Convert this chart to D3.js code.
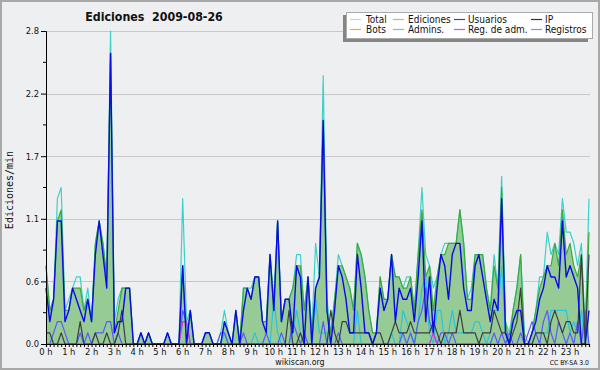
<!DOCTYPE html>
<html><head><meta charset="utf-8">
<script src="https://cdn.jsdelivr.net/npm/d3@7"></script>
<style>
html,body{margin:0;padding:0;background:#f0f0f0}
svg{display:block}
text{font-family:"DejaVu Sans Condensed","DejaVu Sans",sans-serif;fill:#111}
</style>
</head><body><svg id="c" width="600" height="370"></svg>
<script>
// ---- data (10-minute samples, edits per minute) ----
const hourLabels = ["0 h","1 h","2 h","3 h","4 h","5 h","6 h","7 h","8 h","9 h","10 h","11 h","12 h","13 h","14 h","15 h","16 h","17 h","18 h","19 h","20 h","21 h","22 h","23 h"];
const yTickValues = [0, 0.56, 1.12, 1.68, 2.24, 2.8];
const yTickLabels = ["0.0","0.6","1.1","1.7","2.2","2.8"];
const seriesNames = ["Total","Ediciones","Usuarios","IP","Bots","Admins.","Reg. de adm.","Registros"];

const total = [0.7,0.3,0.4,1.3,1.4,0.3,0.4,0.5,0.6,0.6,0.3,0.5,0.2,0.9,1.1,0.9,0.6,2.8,0.2,0.4,0.5,0.5,0.5,0,
0,0.1,0,0.1,0,0,0,0,0.1,0,0,0,1.3,0.2,0.3,0,0,0,0.1,0.1,0,0,0.1,0.3,
0.1,0,0.3,0,0.5,0.5,0.5,0.6,0.6,0.2,0.2,0.8,0.4,1.1,0.2,0.4,0.4,0.5,0.8,0.8,0.3,0.6,0.1,0.9,
0.6,2.4,0.4,0.1,0.4,0.8,0.7,0.6,0.5,0.3,0.9,0.8,0.6,0.3,0.1,0.1,0.6,0.4,0.4,0.8,0.6,0.6,0.5,0.6,
0.6,0.3,0.8,1.4,0.8,0.7,0.5,0.6,0.8,0.9,0.9,0.9,0.9,1.2,0.9,0.4,0.5,0.8,0.8,0.8,0.5,0.3,0.8,0.5,
1.5,0.2,0.1,0.3,0.5,0.8,0.1,0,0.1,0.3,0.6,0.6,1.0,0.8,0.9,0.8,1.3,1.0,1.0,0.9,0.7,0.9,0.1,1.3];

const ediciones = [0.7,0.3,0.4,1.1,1.2,0.3,0.3,0.5,0.5,0.5,0.3,0.4,0.2,0.9,1.1,0.9,0.6,2.6,0.1,0.3,0.5,0.5,0.5,0,
0,0.1,0,0.1,0,0,0,0,0.1,0,0,0,0.7,0,0.3,0,0,0,0.1,0.1,0,0,0,0.2,
0.1,0,0.3,0,0.5,0.5,0.4,0.6,0.6,0.2,0.2,0.8,0.3,1.1,0.2,0.4,0.4,0.5,0.7,0.7,0.3,0.6,0.1,0.5,
0.6,2.0,0.3,0.1,0.4,0.7,0.7,0.6,0.5,0.3,0.9,0.8,0.6,0.3,0.1,0.1,0.6,0.4,0.4,0.8,0.6,0.6,0.5,0.5,
0.6,0.3,0.8,1.2,0.6,0.7,0.3,0.6,0.8,0.8,0.9,0.9,0.9,1.2,0.9,0.4,0.4,0.8,0.8,0.8,0.5,0.3,0.7,0.5,
1.4,0.2,0,0.3,0.5,0.8,0,0,0.1,0.3,0.5,0.6,0.7,0.7,0.9,0.7,1.2,0.8,0.9,0.7,0.6,0.8,0.1,1.0];

const usuarios = [0.5,0.2,0.4,1.1,1.1,0.2,0.3,0.5,0.4,0.3,0.2,0.4,0.2,0.8,1.1,0.8,0.5,2.6,0.1,0.2,0.2,0.5,0.5,0,
0,0.1,0,0.1,0,0,0,0,0.1,0,0,0,0.7,0,0.3,0,0,0,0.1,0.1,0,0,0,0.2,
0.1,0,0.3,0,0.3,0.5,0.4,0.6,0.6,0.2,0.1,0.8,0.3,1.1,0.2,0.4,0.4,0.1,0.7,0.6,0,0.6,0,0.5,
0.6,2.0,0.3,0,0.3,0.7,0.6,0.4,0.1,0.1,0.8,0.5,0.1,0.1,0,0.1,0.5,0.3,0.4,0.8,0.2,0.5,0.4,0.4,
0.5,0.2,0.6,1.1,0.2,0.6,0.1,0.5,0.8,0.7,0.4,0.8,0.9,0.9,0.5,0.3,0.3,0.7,0.8,0.6,0.4,0.2,0.4,0.3,
1.3,0.1,0,0.2,0.3,0.3,0,0,0.1,0.2,0.4,0.5,0.7,0.6,0.6,0.5,1.1,0.6,0.7,0.6,0.5,0,0,0.3];

const ip = [0.1,0.1,0,0,0.1,0,0,0,0,0.2,0,0,0,0.1,0,0,0.1,0,0,0.1,0.3,0,0,0,
0,0,0,0,0,0,0,0,0,0,0,0,0,0,0,0,0,0,0,0,0,0,0,0,
0,0,0,0,0,0,0,0,0,0,0,0,0,0,0,0,0.3,0,0,0.1,0,0,0,0,
0,0,0,0.3,0.1,0,0.2,0.2,0.1,0.1,0.1,0.1,0.1,0.1,0,0.1,0.1,0,0,0.1,0.2,0.1,0.1,0.1,
0.2,0.1,0.1,0.1,0.1,0.1,0.2,0.1,0,0.1,0.1,0.1,0.1,0.3,0.1,0.1,0.1,0.1,0,0.1,0.1,0.1,0.3,0.2,
0.1,0.1,0,0.1,0.2,0.5,0,0,0,0.1,0.1,0.1,0,0.2,0.3,0.2,0.1,0.2,0.2,0.1,0.1,0.8,0,0.8];

const bots = [0,0,0,0,0,0,0,0,0,0,0,0,0,0,0,0,0,0,0,0,0,0,0,0,
0,0,0,0,0,0,0,0,0,0,0,0,0,0,0,0,0,0,0,0,0,0,0,0,
0,0,0,0,0,0,0,0,0,0,0,0,0,0,0,0,0,0,0,0,0,0,0,0,
0,0,0,0,0,0,0,0,0,0,0,0,0,0,0,0,0,0,0,0,0,0,0,0,
0,0,0,0,0,0,0,0,0,0,0,0,0,0,0,0,0,0,0,0,0,0,0,0,
0,0,0,0,0,0,0,0,0,0,0,0,0,0,0,0,0,0,0,0,0,0,0,0];

const admins = [0,0,0,0,0,0,0,0,0,0,0,0,0,0,0,0,0,0,0,0,0,0,0,0,
0,0,0,0,0,0,0,0,0,0,0,0,0,0,0,0,0,0,0,0,0,0,0,0.1,
0,0,0,0,0,0,0,0.1,0,0,0,0,0.4,0.1,0,0,0,0.1,0.3,0.1,0,0,0,0.4,
0.1,0.1,0.1,0,0,0,0,0,0,0,0.3,0,0,0,0,0,0,0,0,0.1,0,0,0.3,0.2,
0.1,0,0.2,0.5,0.6,0.1,0,0.3,0.3,0,0.1,0.3,0.1,0.1,0.1,0.1,0.1,0.2,0.2,0.1,0,0.1,0.3,0.3,
0.7,0.1,0,0,0,0,0,0,0,0.1,0.1,0.1,0.1,0.3,0.3,0.3,0.3,0.3,0.1,0.2,0.1,0.3,0,0];

const regAdm = [0,0,0,0,0,0,0,0,0,0,0,0,0,0,0,0,0,0,0,0,0,0,0,0,
0,0,0,0,0,0,0,0,0,0,0,0,0.2,0.2,0,0,0,0,0,0,0,0,0,0,
0,0,0,0,0,0,0,0,0,0,0,0,0,0,0,0,0,0,0,0,0,0,0,0,
0,0,0,0,0,0,0,0,0,0,0,0,0,0,0,0,0,0,0,0,0,0,0,0,
0,0,0,0,0,0,0.1,0,0,0,0,0,0,0,0,0,0,0,0,0,0,0,0,0,
0,0,0,0,0,0,0,0,0,0,0,0,0,0,0,0,0,0,0,0,0,0,0,0];

const registros = [0,0,0.1,0.2,0.2,0.1,0,0,0,0.1,0,0.1,0,0.1,0.1,0.1,0.2,0.2,0,0.1,0,0,0,0,
0,0,0,0,0,0,0,0,0,0,0,0,0.3,0.2,0,0,0,0,0,0,0,0,0.1,0.1,
0,0,0,0,0.1,0,0,0,0,0,0.1,0,0,0,0.1,0,0,0.2,0.1,0,0.1,0,0,0,
0,0.2,0,0,0,0.1,0,0,0,0,0,0,0,0,0,0,0,0,0,0,0,0,0.1,0,
0.1,0,0.2,0.3,0.5,0.2,0.1,0,0.1,0.1,0,0.1,0,0,0,0,0,0,0,0,0,0,0.1,0,
0.1,0,0.1,0,0,0.1,0,0.1,0.2,0.1,0,0.2,0.3,0.1,0,0.2,0.1,0,0.1,0,0.2,0,0.3,0];

// ---- styles ----
const lineColors = {"Total":"#3dd0c8","Ediciones":"#3aaa3a","Usuarios":"#0a0ae6","IP":"#3c3c3c","Bots":"#ff9a30","Admins.":"#28c4dc","Reg. de adm.":"#cc3ad8","Registros":"#5858ff"};
const legendColors = {"Total":"#a8e2de","Ediciones":"#8fd08f","Usuarios":"#3c3ce6","IP":"#333333","Bots":"#ffa040","Admins.":"#55cce0","Reg. de adm.":"#d050e8","Registros":"#8a8af0"};

const svg = d3.select("#c");
const W = 600, H = 370;
const x0 = 46, x1 = 589, yTop = 31, yBot = 344;

svg.append("rect").attr("x",0).attr("y",0).attr("width",W).attr("height",H).attr("fill","#eeeff1");
svg.append("rect").attr("x",1).attr("y",1).attr("width",W-2).attr("height",H-2)
  .attr("fill","none").attr("stroke","#a8a8a8").attr("stroke-width",2);

const n = total.length;
const x = d3.scaleLinear().domain([0, n-1]).range([x0, x1]);
const y = d3.scaleLinear().domain([0, 2.8]).range([yBot, yTop]);

// grid
svg.append("g").selectAll("line").data(yTickValues.slice(1)).join("line")
  .attr("x1", x0).attr("x2", 590).attr("y1", d=>Math.round(y(d))+0.5).attr("y2", d=>Math.round(y(d))+0.5)
  .attr("stroke","#c8c8c8").attr("stroke-width",1);

// area
const area = d3.area().x((d,i)=>x(i)).y0(y(0)).y1(d=>y(d));
svg.append("path").datum(ediciones).attr("d", area).attr("fill","#96cb96");

const line = d3.line().x((d,i)=>x(i)).y(d=>y(d));
function drawLine(data, name, w){
  svg.append("path").datum(data).attr("d", line).attr("fill","none")
    .attr("stroke", lineColors[name]).attr("stroke-width", w).attr("stroke-linejoin","round");
}
drawLine(total, "Total", 1.2);
drawLine(ediciones, "Ediciones", 1.2);
drawLine(bots, "Bots", 1.1);
drawLine(admins, "Admins.", 1.2);
drawLine(registros, "Registros", 1.2);
drawLine(regAdm, "Reg. de adm.", 1.2);
drawLine(ip, "IP", 1.2);
drawLine(usuarios, "Usuarios", 1.4);

// axes
const fTick = "9.3px";
const yAxis = d3.axisLeft(y).tickValues(yTickValues).tickFormat((d,i)=>yTickLabels[i]).tickSize(5).tickPadding(2);
const gy = svg.append("g").attr("transform",`translate(${x0},0)`).call(yAxis);
gy.selectAll("text").style("font-size",fTick).attr("fill","#111");
gy.select(".domain").attr("stroke","#000");
const minor = yTickValues.slice(1).map((d,i)=>(d+yTickValues[i])/2);
svg.append("g").selectAll("line").data(minor).join("line")
  .attr("x1",x0-3).attr("x2",x0).attr("y1",d=>y(d)).attr("y2",d=>y(d)).attr("stroke","#000");

const xAxisMinor = d3.axisBottom(x).tickValues(d3.range(n)).tickSize(3).tickFormat("");
const gx = svg.append("g").attr("transform",`translate(0,${yBot})`).call(xAxisMinor);
gx.select(".domain").attr("stroke","#000").attr("stroke-width",1.2);
gx.selectAll(".tick line").attr("stroke","#000");

svg.append("g").selectAll("text").data(hourLabels).join("text")
  .attr("x",(d,i)=>x(i*6)).attr("y",355).attr("text-anchor","middle")
  .style("font-size",fTick).text(d=>d);

// titles
svg.append("text").attr("x",154).attr("y",20.5).attr("text-anchor","middle")
  .style("font-size","12.3px").style("font-weight","bold").style("white-space","pre")
  .text("Ediciones  2009-08-26");
svg.append("text").attr("transform","translate(13,190) rotate(-90)").attr("text-anchor","middle")
  .style("font-family","'DejaVu Sans Mono',monospace").style("font-size","10px").text("Ediciones/min");
svg.append("text").attr("x",300).attr("y",365).attr("text-anchor","middle")
  .style("font-size","8.8px").attr("fill","#333").text("wikiscan.org");
svg.append("text").attr("x",589).attr("y",365).attr("text-anchor","end")
  .style("font-size","6.8px").attr("fill","#333").text("CC BY-SA 3.0");

// legend
const lg = svg.append("g");
lg.append("rect").attr("x",343).attr("y",15).attr("width",245).attr("height",27).attr("fill","#858585");
lg.append("rect").attr("x",346.5).attr("y",12.5).attr("width",246).attr("height",26)
  .attr("fill","#fff").attr("stroke","#aaa");
const colSw = [350,393,454,531], colTx = [366,408,468,545], rowY = [19.5,29.5];
seriesNames.forEach((name,k)=>{
  const r = Math.floor(k/4), c = k%4;
  lg.append("line").attr("x1",colSw[c]).attr("x2",colSw[c]+11).attr("y1",rowY[r]).attr("y2",rowY[r])
    .attr("stroke",legendColors[name]).attr("stroke-width",1.2);
  lg.append("text").attr("x",colTx[c]).attr("y",rowY[r]+3.6).style("font-size","10px").text(name);
});
</script></body></html>
